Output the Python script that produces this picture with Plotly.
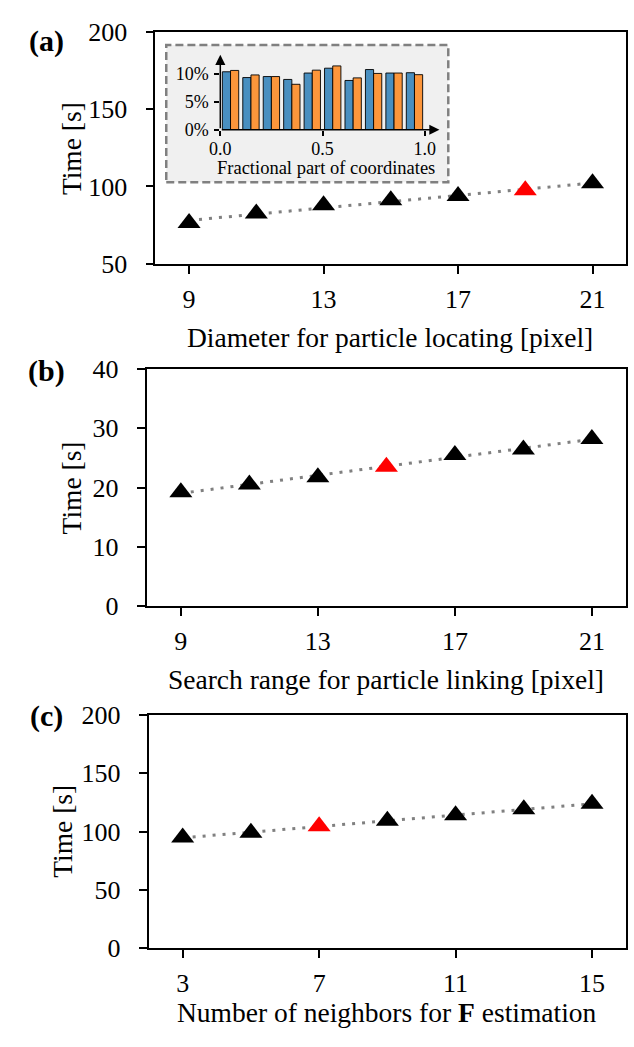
import numpy as np
import plotly.graph_objects as go

# ---- data -----------------------------------------------------------------
# (a) particle locating diameter vs. run time
diam = [9, 11, 13, 15, 17, 19, 21]
diam_time = [76.4, 82.6, 87.8, 91.0, 93.8, 97.5, 102.0]
diam_chosen = 19

# (b) particle linking search range vs. run time
search = [9, 11, 13, 15, 17, 19, 21]
search_time = [19.2, 20.5, 21.75, 23.5, 25.5, 26.4, 28.2]
search_chosen = 15

# (c) neighbours used for F estimation vs. run time
neigh = [3, 5, 7, 9, 11, 13, 15]
neigh_time = [95.0, 99.2, 104.6, 109.4, 114.0, 119.2, 124.0]
neigh_chosen = 7

# inset: histogram of fractional parts of coordinates (percent per bin)
frac_bins = [0.05, 0.15, 0.25, 0.35, 0.45, 0.55, 0.65, 0.75, 0.85, 0.95]
frac_x = [10.4, 9.36, 9.54, 9.02, 10.17, 11.04, 8.84, 10.8, 10.17, 10.23]
frac_y = [10.64, 9.83, 9.54, 8.15, 10.69, 11.45, 9.3, 10.1, 10.17, 9.88]
frac_ticks = [0, 0.5, 1.0]
frac_ticktext = ["0.0", "0.5", "1.0"]
pct_ticks = [0, 5, 10]
pct_ticktext = ["0%", "5%", "10%"]

# ---- layout helpers -------------------------------------------------------
W, H = 634, 1047
FONT = "Liberation Serif"
TICK_SIZE = 26
TITLE_SIZE = 27.5


def px_x(p):
    return p / W


def px_y(p):
    return 1 - p / H


fig = go.Figure()

panels = [
    # x values, y values, chosen, axis suffix, x px domain, y px domain, yrange, ytick, xrange, xtick
    (diam, diam_time, diam_chosen, "", (147, 626), (18, 257), [50, 200], [50, 100, 150, 200], [8, 22], [9, 13, 17, 21]),
    (search, search_time, search_chosen, "2", (138, 626), (365, 609), [0, 40], [0, 10, 20, 30, 40], [8, 22], [9, 13, 17, 21]),
    (neigh, neigh_time, neigh_chosen, "3", (140, 626), (721, 961), [0, 200], [0, 50, 100, 150, 200], [2, 16], [3, 7, 11, 15]),
]

axis_style = dict(
    showline=True, linecolor="black", linewidth=1.8, mirror=True,
    ticks="outside", ticklen=8, tickwidth=1.6, tickcolor="black",
    showgrid=False, zeroline=False,
    tickfont=dict(family=FONT, size=TICK_SIZE, color="black"),
)

for xs, ys, chosen, sfx, (x0, x1), (y0, y1), yr, yt, xr, xt in panels:
    xa = "x" + sfx
    ya = "y" + sfx
    # least-squares trend line
    k, b = np.polyfit(xs, ys, 1)
    xl = [min(xs), max(xs)]
    fig.add_trace(go.Scatter(
        x=xl, y=[k * v + b for v in xl], mode="lines",
        line=dict(color="#808080", width=3, dash="3px,7px"),
        xaxis=xa, yaxis=ya, showlegend=False, hoverinfo="skip",
    ))
    colors = ["#ff0000" if v == chosen else "black" for v in xs]
    fig.add_trace(go.Scatter(
        x=xs, y=ys, mode="markers",
        marker=dict(symbol="triangle-up", size=20, color=colors, line=dict(width=0)),
        xaxis=xa, yaxis=ya, showlegend=False,
    ))
    fig.layout["xaxis" + sfx] = dict(
        domain=[px_x(x0), px_x(x1)], range=xr, tickvals=xt, anchor=ya,
        ticklabelstandoff=3, **axis_style,
    )
    fig.layout["yaxis" + sfx] = dict(
        domain=[px_y(y1), px_y(y0)], range=yr, tickvals=yt, anchor=xa,
        ticklabelstandoff=13, **axis_style,
    )

# ---- inset histogram ------------------------------------------------------
ins_x0, ins_x1 = 213, 436
ins_y0, ins_y1 = 42, 119
fig.add_trace(go.Bar(
    x=frac_bins, y=frac_x, marker=dict(color="#498fc0", line=dict(color="black", width=0.9)),
    xaxis="x4", yaxis="y4", showlegend=False,
))
fig.add_trace(go.Bar(
    x=frac_bins, y=frac_y, marker=dict(color="#fc963b", line=dict(color="black", width=0.9)),
    xaxis="x4", yaxis="y4", showlegend=False,
))
xr4 = [0, (ins_x1 - ins_x0) / 208.0]
yr4 = [0, (ins_y1 - ins_y0) / 5.73]
inset_tick = dict(family=FONT, size=18, color="black")
fig.layout.xaxis4 = dict(
    domain=[px_x(ins_x0), px_x(ins_x1)], range=xr4, anchor="y4",
    tickvals=frac_ticks, ticktext=frac_ticktext,
    showline=False, showgrid=False, zeroline=False,
    ticks="outside", ticklen=5, tickwidth=1.5, tickcolor="black",
    tickfont=inset_tick, ticklabelstandoff=-2,
)
fig.layout.yaxis4 = dict(
    domain=[px_y(ins_y1), px_y(ins_y0)], range=yr4, anchor="x4",
    tickvals=pct_ticks, ticktext=pct_ticktext,
    showline=False, showgrid=False, zeroline=False,
    ticks="outside", ticklen=5, tickwidth=1.5, tickcolor="black",
    tickfont=inset_tick, ticklabelstandoff=2,
)

shapes = [dict(
    type="rect", xref="paper", yref="paper",
    x0=px_x(158), x1=px_x(445), y0=px_y(173), y1=px_y(32),
    fillcolor="#f0f0f0", line=dict(color="#808080", width=2.5, dash="8px,4px"),
    layer="below",
)]

annotations = []
# arrowed axes of the inset
for tip, tail in [((xr4[1], 0), (0, 0)), ((0, yr4[1]), (0, 0))]:
    annotations.append(dict(
        x=tip[0], y=tip[1], ax=tail[0], ay=tail[1],
        xref="x4", yref="y4", axref="x4", ayref="y4",
        text="", showarrow=True, arrowhead=2, arrowsize=1.35, arrowwidth=1.5,
        arrowcolor="black", standoff=0, startstandoff=0,
    ))
annotations.append(dict(
    x=px_x(321), y=px_y(158), xref="paper", yref="paper",
    text="Fractional part of coordinates", showarrow=False,
    font=dict(family=FONT, size=18.5, color="black"), xanchor="center", yanchor="middle",
))

# axis titles and panel letters
xtitles = [
    ("Diameter for particle locating [pixel]", 386, 333),
    ("Search range for particle linking [pixel]", 382, 684),
    ("Number of neighbors for <b>F</b> estimation", 383, 1027),
]
for text, cx, cy in xtitles:
    annotations.append(dict(
        x=px_x(cx), y=px_y(cy), xref="paper", yref="paper", text=text, showarrow=False,
        font=dict(family=FONT, size=TITLE_SIZE, color="black"), xanchor="center", yanchor="middle",
    ))
for cx, cy in [(61, 138), (62, 487), (53, 841)]:
    annotations.append(dict(
        x=px_x(cx), y=px_y(cy), xref="paper", yref="paper", text="Time [s]", showarrow=False,
        textangle=-90, font=dict(family=FONT, size=TITLE_SIZE, color="black"),
        xanchor="center", yanchor="middle",
    ))
for lab, cy in [("(a)", 28), ("(b)", 367), ("(c)", 722)]:
    annotations.append(dict(
        x=px_x(36), y=px_y(cy), xref="paper", yref="paper", text="<b>%s</b>" % lab,
        showarrow=False, font=dict(family=FONT, size=30, color="black"),
        xanchor="center", yanchor="middle",
    ))

fig.update_layout(
    width=W, height=H, margin=dict(l=0, r=0, t=0, b=0),
    paper_bgcolor="white", plot_bgcolor="rgba(0,0,0,0)",
    barmode="group", bargap=0.2, bargroupgap=0,
    shapes=shapes, annotations=annotations,
    font=dict(family=FONT, color="black"),
)

# pin the figure to the page corner so it fills the window exactly
fig.write_html(
    "out.html",
    post_script="document.body.style.margin='0';document.body.style.overflow='hidden';",
)
